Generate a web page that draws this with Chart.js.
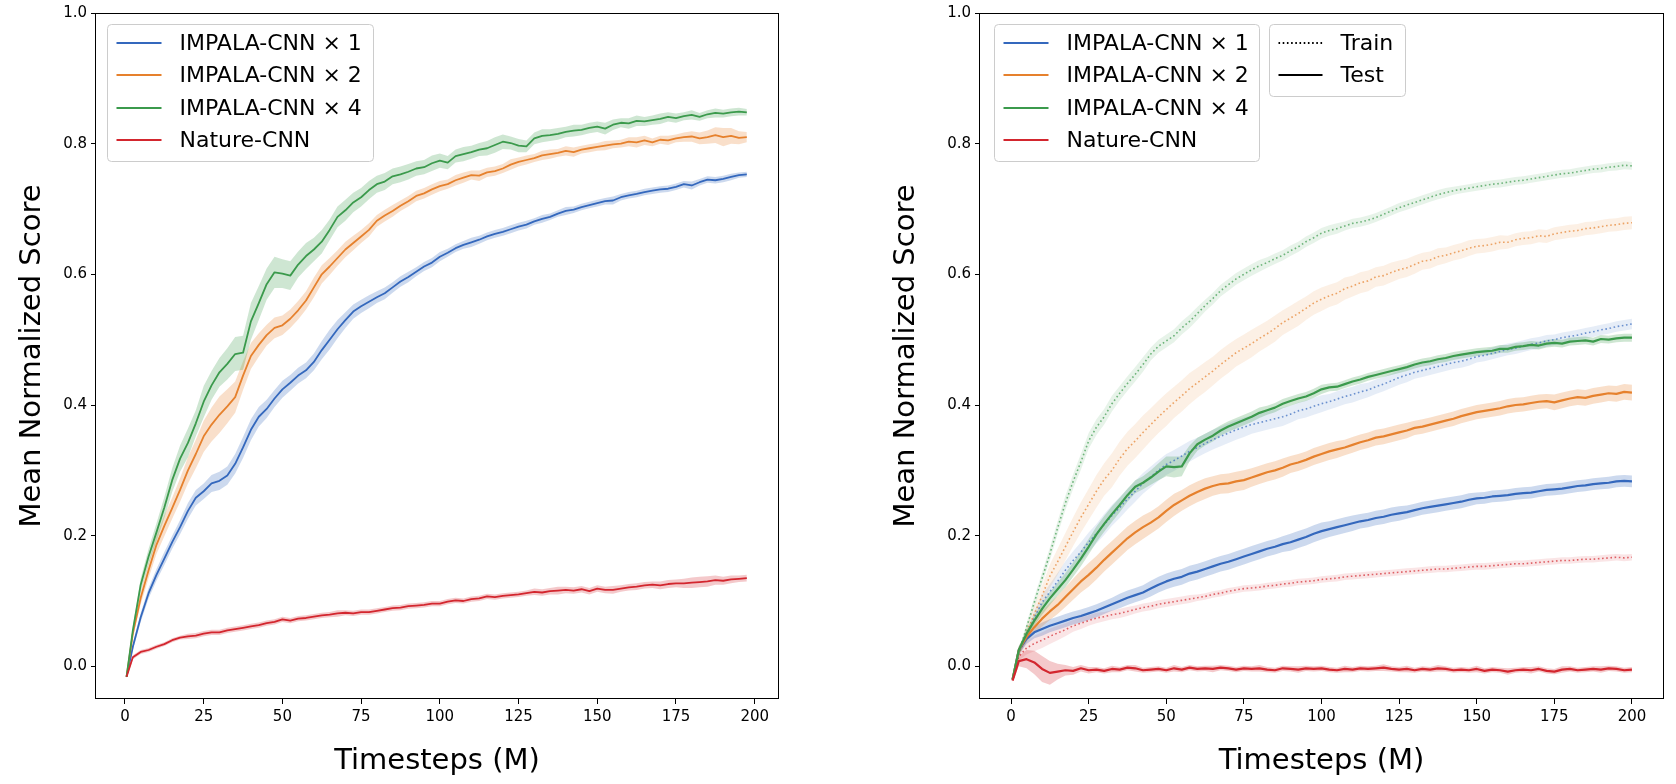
<!DOCTYPE html>
<html>
<head>
<meta charset="utf-8">
<script src="https://cdn.jsdelivr.net/npm/chart.js@4.4.1/dist/chart.umd.min.js"></script>
<style>
  html, body { margin: 0; padding: 0; background: #fff; }
  #wrap { position: relative; width: 1676px; height: 784px; overflow: hidden; }
  .panel { position: absolute; top: 0; width: 838px; height: 784px; }
</style>
</head>
<body>
<div id="wrap">
  <div class="panel" style="left:0"><canvas id="leftChart"></canvas></div>
  <div class="panel" style="left:838px"><canvas id="rightChart"></canvas></div>
</div>
<script>
// ---- data ----
const seriesNames = ['IMPALA-CNN × 1', 'IMPALA-CNN × 2', 'IMPALA-CNN × 4', 'Nature-CNN'];
const styleNames = ['Train', 'Test'];
const xTicks = [0, 25, 50, 75, 100, 125, 150, 175, 200];
const yTicks = [0.0, 0.2, 0.4, 0.6, 0.8, 1.0];

// left panel: training performance
const stepsLeft = [
  0.5, 2.5, 5, 7.5, 10, 12.5, 15, 17.5, 20, 22.5,
  25, 27.5, 30, 32.5, 35, 37.5, 40, 42.5, 45, 47.5,
  50, 52.5, 55, 57.5, 60, 62.5, 65, 67.5, 70, 72.5,
  75, 77.5, 80, 82.5, 85, 87.5, 90, 92.5, 95, 97.5,
  100, 102.5, 105, 107.5, 110, 112.5, 115, 117.5, 120, 122.5,
  125, 127.5, 130, 132.5, 135, 137.5, 140, 142.5, 145, 147.5,
  150, 152.5, 155, 157.5, 160, 162.5, 165, 167.5, 170, 172.5,
  175, 177.5, 180, 182.5, 185, 187.5, 190, 192.5, 195, 197.5
];
const leftX1 = [
  -0.016, 0.03, 0.075, 0.112, 0.14, 0.165, 0.19, 0.213, 0.238, 0.258,
  0.268, 0.28, 0.284, 0.292, 0.31, 0.335, 0.362, 0.382, 0.394, 0.41,
  0.424, 0.434, 0.445, 0.453, 0.466, 0.484, 0.5, 0.516, 0.53, 0.543,
  0.551, 0.558, 0.565, 0.571, 0.58, 0.589, 0.596, 0.604, 0.612, 0.618,
  0.627, 0.633, 0.64, 0.645, 0.649, 0.653, 0.658, 0.662, 0.665, 0.669,
  0.673, 0.676, 0.681, 0.685, 0.688, 0.693, 0.697, 0.699, 0.703, 0.706,
  0.709, 0.712, 0.713, 0.718, 0.721, 0.723, 0.726, 0.728, 0.73, 0.731,
  0.734, 0.738, 0.736, 0.741, 0.745, 0.744, 0.746, 0.749, 0.752, 0.753
];
const leftX1Spread = [
  0.002, 0.005, 0.007, 0.008, 0.009, 0.01, 0.01, 0.011, 0.012, 0.012,
  0.012, 0.013, 0.014, 0.014, 0.015, 0.016, 0.016, 0.015, 0.014, 0.013,
  0.013, 0.012, 0.012, 0.012, 0.013, 0.014, 0.015, 0.014, 0.012, 0.011,
  0.01, 0.01, 0.009, 0.009, 0.008, 0.008, 0.008, 0.007, 0.007, 0.007,
  0.007, 0.006, 0.006, 0.006, 0.007, 0.006, 0.006, 0.006, 0.006, 0.006,
  0.006, 0.006, 0.005, 0.006, 0.005, 0.005, 0.006, 0.005, 0.005, 0.005,
  0.005, 0.005, 0.006, 0.005, 0.005, 0.005, 0.005, 0.005, 0.005, 0.005,
  0.005, 0.005, 0.006, 0.005, 0.005, 0.005, 0.005, 0.005, 0.004, 0.004
];
const leftX2 = [
  -0.016, 0.05, 0.105, 0.147, 0.186, 0.215, 0.242, 0.27, 0.3, 0.325,
  0.352, 0.37, 0.385, 0.398, 0.412, 0.445, 0.475, 0.492, 0.507, 0.518,
  0.522, 0.532, 0.545, 0.56, 0.58, 0.6, 0.612, 0.625, 0.638, 0.648,
  0.658, 0.668, 0.682, 0.69, 0.697, 0.705, 0.712, 0.72, 0.724, 0.73,
  0.735, 0.738, 0.744, 0.748, 0.752, 0.751, 0.756, 0.758, 0.762, 0.768,
  0.772, 0.775, 0.778, 0.782, 0.784, 0.786, 0.789, 0.787, 0.791, 0.793,
  0.795, 0.797, 0.799, 0.8, 0.803, 0.802, 0.805, 0.802, 0.806, 0.805,
  0.808, 0.81, 0.811, 0.808, 0.81, 0.813, 0.81, 0.812, 0.809, 0.81
];
const leftX2Spread = [
  0.002, 0.006, 0.01, 0.012, 0.014, 0.016, 0.016, 0.018, 0.02, 0.022,
  0.024, 0.026, 0.028, 0.026, 0.024, 0.022, 0.02, 0.018, 0.016, 0.016,
  0.015, 0.014, 0.014, 0.014, 0.015, 0.014, 0.013, 0.012, 0.012, 0.011,
  0.01, 0.01, 0.009, 0.009, 0.009, 0.008, 0.008, 0.008, 0.008, 0.008,
  0.008, 0.007, 0.008, 0.008, 0.007, 0.008, 0.007, 0.007, 0.007, 0.008,
  0.007, 0.007, 0.006, 0.007, 0.007, 0.006, 0.007, 0.007, 0.006, 0.006,
  0.006, 0.007, 0.006, 0.006, 0.007, 0.008, 0.007, 0.006, 0.006, 0.007,
  0.006, 0.007, 0.008, 0.009, 0.01, 0.012, 0.014, 0.012, 0.01, 0.008
];
const leftX4 = [
  -0.016, 0.055, 0.125, 0.168, 0.205, 0.243, 0.285, 0.318, 0.342, 0.372,
  0.405, 0.43, 0.45, 0.463, 0.478, 0.48, 0.528, 0.556, 0.585, 0.603,
  0.601, 0.598, 0.615, 0.628, 0.638, 0.65, 0.668, 0.688, 0.698, 0.71,
  0.718, 0.729, 0.738, 0.742, 0.75, 0.753, 0.757, 0.762, 0.764, 0.77,
  0.774, 0.771, 0.781, 0.784, 0.787, 0.791, 0.793, 0.798, 0.803, 0.801,
  0.797, 0.796, 0.808, 0.812, 0.813, 0.815, 0.818, 0.82, 0.821, 0.824,
  0.826, 0.823, 0.829, 0.832, 0.831, 0.835, 0.834, 0.836, 0.838, 0.841,
  0.839, 0.842, 0.844, 0.841, 0.845, 0.847, 0.846, 0.848, 0.849, 0.848
];
const leftX4Spread = [
  0.002, 0.006, 0.01, 0.012, 0.014, 0.016, 0.018, 0.02, 0.022, 0.02,
  0.024, 0.022, 0.022, 0.024, 0.026, 0.026, 0.028, 0.026, 0.024, 0.024,
  0.022, 0.022, 0.02, 0.02, 0.018, 0.018, 0.016, 0.016, 0.016, 0.015,
  0.014, 0.014, 0.013, 0.013, 0.012, 0.012, 0.012, 0.011, 0.011, 0.012,
  0.011, 0.01, 0.01, 0.011, 0.01, 0.01, 0.011, 0.012, 0.011, 0.01,
  0.01, 0.009, 0.009, 0.01, 0.009, 0.009, 0.008, 0.009, 0.008, 0.008,
  0.008, 0.009, 0.008, 0.007, 0.008, 0.008, 0.007, 0.007, 0.008, 0.007,
  0.007, 0.006, 0.007, 0.006, 0.006, 0.007, 0.006, 0.006, 0.006, 0.005
];
const leftNature = [
  -0.016, 0.014, 0.022, 0.025, 0.03, 0.034, 0.04, 0.044, 0.046, 0.047,
  0.05, 0.052, 0.052, 0.055, 0.057, 0.059, 0.061, 0.063, 0.066, 0.068,
  0.072, 0.07, 0.073, 0.074, 0.076, 0.078, 0.079, 0.081, 0.082, 0.081,
  0.083, 0.083, 0.085, 0.087, 0.089, 0.09, 0.092, 0.093, 0.094, 0.096,
  0.096, 0.099, 0.101, 0.1, 0.103, 0.104, 0.107, 0.106, 0.108, 0.109,
  0.11, 0.112, 0.114, 0.113, 0.115, 0.116, 0.117, 0.116, 0.118, 0.115,
  0.119, 0.117, 0.117, 0.119, 0.121, 0.122, 0.124, 0.125, 0.124, 0.126,
  0.127, 0.127, 0.128, 0.129, 0.13, 0.132, 0.131, 0.133, 0.134, 0.135
];
const leftNatureSpread = [
  0.002, 0.003, 0.003, 0.003, 0.003, 0.003, 0.003, 0.003, 0.004, 0.004,
  0.004, 0.004, 0.004, 0.004, 0.004, 0.004, 0.004, 0.004, 0.004, 0.004,
  0.004, 0.004, 0.004, 0.004, 0.004, 0.004, 0.004, 0.005, 0.004, 0.004,
  0.004, 0.004, 0.004, 0.004, 0.004, 0.004, 0.004, 0.004, 0.004, 0.004,
  0.004, 0.004, 0.004, 0.004, 0.004, 0.004, 0.004, 0.004, 0.004, 0.004,
  0.004, 0.004, 0.005, 0.005, 0.005, 0.006, 0.005, 0.005, 0.005, 0.005,
  0.005, 0.005, 0.006, 0.005, 0.005, 0.005, 0.005, 0.005, 0.006, 0.006,
  0.006, 0.007, 0.008, 0.008, 0.008, 0.007, 0.006, 0.006, 0.005, 0.005
];

// right panel: generalization, train (dotted) and test (solid)
const stepsRight = [
  0.5, 2.5, 5, 7.5, 10, 12.5, 15, 17.5, 20, 22.5,
  25, 27.5, 30, 32.5, 35, 37.5, 40, 42.5, 45, 47.5,
  50, 52.5, 55, 57.5, 60, 62.5, 65, 67.5, 70, 72.5,
  75, 77.5, 80, 82.5, 85, 87.5, 90, 92.5, 95, 97.5,
  100, 102.5, 105, 107.5, 110, 112.5, 115, 117.5, 120, 122.5,
  125, 127.5, 130, 132.5, 135, 137.5, 140, 142.5, 145, 147.5,
  150, 152.5, 155, 157.5, 160, 162.5, 165, 167.5, 170, 172.5,
  175, 177.5, 180, 182.5, 185, 187.5, 190, 192.5, 195, 197.5,
  200
];
const trainX1 = [
  -0.02, 0.02, 0.045, 0.075, 0.098, 0.114, 0.13, 0.147, 0.162, 0.175,
  0.19, 0.203, 0.217, 0.231, 0.243, 0.256, 0.268, 0.28, 0.29, 0.3,
  0.309, 0.315, 0.322, 0.329, 0.335, 0.341, 0.347, 0.352, 0.357, 0.362,
  0.366, 0.37, 0.373, 0.376, 0.379, 0.382, 0.386, 0.391, 0.394, 0.398,
  0.402, 0.405, 0.409, 0.413, 0.416, 0.42, 0.423, 0.428, 0.432, 0.437,
  0.442, 0.446, 0.45, 0.453, 0.456, 0.459, 0.462, 0.465, 0.467, 0.47,
  0.474, 0.476, 0.479, 0.482, 0.485, 0.487, 0.49, 0.493, 0.495, 0.498,
  0.5, 0.503, 0.505, 0.507, 0.51, 0.512, 0.515, 0.517, 0.52, 0.522,
  0.524
];
const trainX1Spread = [
  0.002, 0.006, 0.008, 0.01, 0.011, 0.012, 0.013, 0.014, 0.014, 0.015,
  0.015, 0.015, 0.016, 0.016, 0.016, 0.016, 0.016, 0.016, 0.016, 0.016,
  0.016, 0.016, 0.016, 0.016, 0.015, 0.015, 0.015, 0.015, 0.015, 0.015,
  0.015, 0.014, 0.014, 0.014, 0.014, 0.014, 0.013, 0.013, 0.013, 0.013,
  0.013, 0.012, 0.012, 0.012, 0.012, 0.012, 0.011, 0.011, 0.011, 0.011,
  0.011, 0.011, 0.01, 0.01, 0.01, 0.01, 0.01, 0.01, 0.01, 0.01,
  0.009, 0.009, 0.009, 0.009, 0.009, 0.009, 0.009, 0.009, 0.009, 0.009,
  0.008, 0.008, 0.008, 0.008, 0.008, 0.008, 0.008, 0.008, 0.008, 0.008,
  0.008
];
const trainX2 = [
  -0.02, 0.018, 0.052, 0.08, 0.108, 0.138, 0.16, 0.183, 0.206, 0.228,
  0.248, 0.268, 0.286, 0.3, 0.318, 0.333, 0.345, 0.358, 0.37, 0.382,
  0.393, 0.404, 0.414, 0.425, 0.434, 0.443, 0.452, 0.462, 0.471, 0.48,
  0.487, 0.494, 0.502, 0.509, 0.517, 0.526, 0.533, 0.54, 0.548, 0.556,
  0.562, 0.567, 0.571, 0.578, 0.582, 0.587, 0.59, 0.596, 0.598, 0.603,
  0.607, 0.61, 0.615, 0.62, 0.622, 0.627, 0.629, 0.633, 0.636, 0.64,
  0.643, 0.644, 0.646, 0.649, 0.649, 0.653, 0.655, 0.656, 0.659, 0.658,
  0.662, 0.664, 0.666, 0.667, 0.67, 0.671, 0.673, 0.675, 0.676, 0.678,
  0.679
];
const trainX2Spread = [
  0.002, 0.006, 0.01, 0.013, 0.016, 0.018, 0.02, 0.021, 0.022, 0.023,
  0.024, 0.025, 0.025, 0.026, 0.026, 0.026, 0.026, 0.026, 0.025, 0.025,
  0.025, 0.024, 0.024, 0.024, 0.023, 0.023, 0.022, 0.022, 0.022, 0.021,
  0.021, 0.021, 0.02, 0.02, 0.02, 0.019, 0.019, 0.019, 0.018, 0.018,
  0.018, 0.017, 0.017, 0.017, 0.016, 0.016, 0.016, 0.015, 0.015, 0.015,
  0.014, 0.014, 0.014, 0.013, 0.013, 0.013, 0.012, 0.012, 0.012, 0.012,
  0.011, 0.011, 0.011, 0.011, 0.01, 0.01, 0.01, 0.01, 0.01, 0.01,
  0.01, 0.01, 0.01, 0.01, 0.01, 0.01, 0.01, 0.01, 0.01, 0.01,
  0.01
];
const trainX4 = [
  -0.02, 0.02, 0.06, 0.098, 0.135, 0.172, 0.212, 0.25, 0.283, 0.313,
  0.345, 0.366, 0.382, 0.402, 0.418, 0.433, 0.447, 0.462, 0.478, 0.49,
  0.498, 0.506, 0.518, 0.528, 0.54, 0.552, 0.563, 0.575, 0.584, 0.593,
  0.6, 0.607, 0.613, 0.618, 0.624, 0.629, 0.636, 0.642, 0.65, 0.656,
  0.663, 0.667, 0.67, 0.674, 0.678, 0.68, 0.683, 0.687, 0.692, 0.697,
  0.702, 0.706, 0.71, 0.714, 0.718, 0.722, 0.725, 0.728, 0.73, 0.732,
  0.734, 0.736, 0.738, 0.739, 0.741, 0.743, 0.744, 0.746, 0.748, 0.75,
  0.752, 0.754, 0.755, 0.757, 0.759, 0.761, 0.762, 0.764, 0.765, 0.767,
  0.766
];
const trainX4Spread = [
  0.002, 0.004, 0.006, 0.008, 0.009, 0.01, 0.01, 0.011, 0.011, 0.012,
  0.012, 0.012, 0.012, 0.012, 0.011, 0.011, 0.011, 0.011, 0.01, 0.01,
  0.01, 0.01, 0.01, 0.01, 0.01, 0.009, 0.009, 0.009, 0.009, 0.009,
  0.009, 0.009, 0.009, 0.008, 0.008, 0.008, 0.008, 0.008, 0.008, 0.008,
  0.008, 0.008, 0.008, 0.007, 0.007, 0.007, 0.007, 0.007, 0.007, 0.007,
  0.007, 0.007, 0.007, 0.007, 0.007, 0.007, 0.007, 0.006, 0.006, 0.006,
  0.006, 0.006, 0.006, 0.006, 0.006, 0.006, 0.006, 0.006, 0.006, 0.006,
  0.006, 0.006, 0.006, 0.006, 0.006, 0.006, 0.006, 0.006, 0.006, 0.006,
  0.006
];
const trainNature = [
  -0.02, 0.015, 0.028, 0.035, 0.04, 0.046, 0.051, 0.056, 0.062, 0.066,
  0.07, 0.074, 0.076, 0.079, 0.081, 0.084, 0.087, 0.09, 0.092, 0.095,
  0.097, 0.099, 0.101, 0.103, 0.105, 0.107, 0.11, 0.112, 0.115, 0.117,
  0.119, 0.12, 0.121, 0.123, 0.124, 0.126, 0.127, 0.129, 0.13, 0.131,
  0.133, 0.134, 0.135, 0.137, 0.138, 0.139, 0.14, 0.141, 0.142, 0.143,
  0.144, 0.145, 0.146, 0.147, 0.148, 0.149, 0.149, 0.15, 0.151, 0.152,
  0.153, 0.153, 0.154, 0.155, 0.156, 0.157, 0.157, 0.158, 0.159, 0.16,
  0.161, 0.162, 0.162, 0.163, 0.164, 0.164, 0.165, 0.166, 0.167, 0.166,
  0.167
];
const trainNatureSpread = [
  0.002, 0.006, 0.01, 0.012, 0.012, 0.012, 0.011, 0.01, 0.009, 0.009,
  0.008, 0.008, 0.007, 0.007, 0.007, 0.007, 0.006, 0.006, 0.006, 0.006,
  0.006, 0.006, 0.006, 0.006, 0.005, 0.005, 0.005, 0.005, 0.005, 0.005,
  0.005, 0.005, 0.005, 0.005, 0.005, 0.005, 0.005, 0.005, 0.005, 0.005,
  0.005, 0.005, 0.005, 0.005, 0.005, 0.005, 0.005, 0.005, 0.005, 0.005,
  0.005, 0.005, 0.005, 0.005, 0.005, 0.005, 0.005, 0.005, 0.005, 0.005,
  0.005, 0.005, 0.005, 0.005, 0.005, 0.005, 0.005, 0.005, 0.005, 0.005,
  0.005, 0.005, 0.005, 0.005, 0.005, 0.005, 0.005, 0.005, 0.005, 0.005,
  0.005
];
const testX1 = [
  -0.02, 0.025, 0.042, 0.052, 0.057, 0.062, 0.066, 0.07, 0.074, 0.077,
  0.081, 0.085, 0.09, 0.095, 0.1, 0.105, 0.109, 0.113, 0.119, 0.125,
  0.13, 0.134, 0.137, 0.142, 0.145, 0.149, 0.153, 0.157, 0.16, 0.164,
  0.168, 0.172, 0.176, 0.18, 0.183, 0.187, 0.19, 0.194, 0.198, 0.203,
  0.207, 0.21, 0.213, 0.216, 0.219, 0.222, 0.224, 0.227, 0.229, 0.232,
  0.234, 0.236, 0.239, 0.242, 0.244, 0.246, 0.248, 0.25, 0.252, 0.255,
  0.257, 0.258, 0.26, 0.261, 0.262, 0.264, 0.265, 0.266, 0.268, 0.27,
  0.271, 0.272, 0.274, 0.276, 0.277, 0.279, 0.28, 0.281, 0.283, 0.284,
  0.283
];
const testX1Spread = [
  0.002, 0.006, 0.008, 0.009, 0.01, 0.01, 0.01, 0.01, 0.01, 0.01,
  0.01, 0.01, 0.01, 0.01, 0.011, 0.011, 0.011, 0.011, 0.012, 0.012,
  0.012, 0.012, 0.012, 0.012, 0.012, 0.012, 0.012, 0.012, 0.012, 0.012,
  0.012, 0.012, 0.012, 0.012, 0.012, 0.012, 0.013, 0.013, 0.013, 0.013,
  0.013, 0.012, 0.012, 0.012, 0.012, 0.011, 0.011, 0.011, 0.011, 0.011,
  0.011, 0.01, 0.01, 0.01, 0.01, 0.01, 0.01, 0.01, 0.01, 0.01,
  0.009, 0.009, 0.009, 0.009, 0.009, 0.009, 0.009, 0.009, 0.009, 0.009,
  0.009, 0.009, 0.009, 0.009, 0.009, 0.009, 0.009, 0.009, 0.009, 0.009,
  0.009
];
const testX2 = [
  -0.02, 0.025, 0.045, 0.06, 0.073, 0.084, 0.094, 0.106, 0.118, 0.13,
  0.14, 0.151, 0.163, 0.174, 0.185, 0.196, 0.205, 0.213, 0.22, 0.228,
  0.238, 0.247, 0.254, 0.261, 0.267, 0.272, 0.276, 0.279, 0.28, 0.283,
  0.285, 0.289, 0.293, 0.297, 0.3, 0.304, 0.309, 0.312, 0.316, 0.321,
  0.325, 0.329, 0.332, 0.335, 0.339, 0.343, 0.346, 0.35, 0.352, 0.355,
  0.358, 0.361, 0.365, 0.367, 0.37, 0.373, 0.376, 0.379, 0.383, 0.386,
  0.389, 0.391, 0.393, 0.395, 0.398, 0.4, 0.401, 0.403, 0.405, 0.406,
  0.404, 0.407, 0.41, 0.412, 0.411, 0.414, 0.416, 0.418, 0.417, 0.42,
  0.419
];
const testX2Spread = [
  0.002, 0.006, 0.008, 0.01, 0.012, 0.013, 0.014, 0.015, 0.016, 0.017,
  0.018, 0.018, 0.018, 0.018, 0.018, 0.018, 0.018, 0.018, 0.017, 0.017,
  0.017, 0.017, 0.016, 0.016, 0.016, 0.016, 0.015, 0.015, 0.015, 0.015,
  0.015, 0.014, 0.014, 0.014, 0.014, 0.014, 0.013, 0.013, 0.013, 0.013,
  0.013, 0.013, 0.013, 0.012, 0.012, 0.012, 0.012, 0.012, 0.012, 0.012,
  0.012, 0.012, 0.011, 0.011, 0.011, 0.011, 0.011, 0.011, 0.011, 0.011,
  0.011, 0.011, 0.011, 0.011, 0.011, 0.011, 0.011, 0.011, 0.011, 0.011,
  0.012, 0.012, 0.012, 0.012, 0.012, 0.012, 0.012, 0.012, 0.012, 0.012,
  0.012
];
const testX4 = [
  -0.02, 0.025, 0.05, 0.07, 0.088, 0.104, 0.118, 0.132, 0.148, 0.165,
  0.183, 0.202, 0.218, 0.233, 0.247, 0.262, 0.275, 0.281, 0.289, 0.298,
  0.306, 0.305, 0.306, 0.326, 0.34, 0.347, 0.353, 0.361, 0.367, 0.372,
  0.377, 0.382, 0.388, 0.392, 0.396, 0.402, 0.406, 0.41, 0.413, 0.418,
  0.424, 0.427, 0.428, 0.432, 0.436, 0.439, 0.443, 0.446, 0.449, 0.452,
  0.455, 0.458, 0.462, 0.465, 0.467, 0.47, 0.472, 0.475, 0.477, 0.479,
  0.481, 0.482, 0.483, 0.486, 0.486, 0.489, 0.49, 0.492, 0.491, 0.494,
  0.495, 0.494, 0.497, 0.498, 0.499, 0.497, 0.501, 0.5, 0.502, 0.503,
  0.503
];
const testX4Spread = [
  0.002, 0.005, 0.007, 0.008, 0.009, 0.01, 0.01, 0.011, 0.011, 0.012,
  0.012, 0.012, 0.012, 0.012, 0.011, 0.01, 0.01, 0.01, 0.011, 0.013,
  0.015, 0.016, 0.015, 0.012, 0.01, 0.009, 0.009, 0.008, 0.008, 0.008,
  0.008, 0.008, 0.008, 0.007, 0.007, 0.007, 0.007, 0.007, 0.007, 0.007,
  0.007, 0.006, 0.006, 0.006, 0.006, 0.006, 0.006, 0.006, 0.006, 0.006,
  0.006, 0.006, 0.006, 0.006, 0.006, 0.006, 0.006, 0.006, 0.006, 0.006,
  0.006, 0.006, 0.006, 0.006, 0.006, 0.006, 0.006, 0.006, 0.006, 0.006,
  0.006, 0.006, 0.006, 0.006, 0.006, 0.006, 0.006, 0.006, 0.006, 0.006,
  0.006
];
const testNature = [
  -0.022, 0.008, 0.011, 0.006, -0.004, -0.01, -0.008, -0.006, -0.007, -0.003,
  -0.006, -0.005, -0.007, -0.004, -0.005, -0.002, -0.003, -0.006, -0.005, -0.004,
  -0.006, -0.003, -0.005, -0.002, -0.004, -0.003, -0.004, -0.002, -0.003, -0.005,
  -0.003, -0.004, -0.003, -0.005, -0.006, -0.003, -0.004, -0.005, -0.003, -0.004,
  -0.003, -0.005, -0.006, -0.004, -0.005, -0.003, -0.004, -0.003, -0.002, -0.004,
  -0.005, -0.004, -0.006, -0.004, -0.005, -0.003, -0.004, -0.006, -0.005, -0.006,
  -0.004, -0.007, -0.005, -0.006, -0.008, -0.006, -0.005, -0.006, -0.004, -0.007,
  -0.008, -0.005, -0.004, -0.006, -0.005, -0.004, -0.005, -0.003, -0.004, -0.006,
  -0.005
];
const testNatureSpread = [
  0.002, 0.008, 0.014, 0.018, 0.02, 0.018, 0.012, 0.008, 0.006, 0.005,
  0.005, 0.004, 0.004, 0.005, 0.004, 0.004, 0.005, 0.004, 0.004, 0.004,
  0.004, 0.005, 0.004, 0.004, 0.004, 0.004, 0.005, 0.004, 0.004, 0.004,
  0.004, 0.004, 0.005, 0.004, 0.004, 0.004, 0.004, 0.005, 0.004, 0.004,
  0.004, 0.004, 0.004, 0.005, 0.004, 0.004, 0.004, 0.004, 0.005, 0.004,
  0.004, 0.005, 0.004, 0.004, 0.004, 0.005, 0.004, 0.004, 0.004, 0.004,
  0.005, 0.004, 0.004, 0.004, 0.005, 0.004, 0.004, 0.005, 0.004, 0.004,
  0.004, 0.005, 0.004, 0.004, 0.004, 0.004, 0.005, 0.004, 0.004, 0.004,
  0.004
];

// ---- styling ----
const palette = ['#3468bd', '#e6812d', '#3b9a4c', '#d3262e'];
Chart.defaults.font.family = '"DejaVu Sans", sans-serif';
Chart.defaults.color = '#000';

function rgba(hex, a) {
  const n = parseInt(hex.slice(1), 16);
  return 'rgba(' + (n >> 16) + ',' + ((n >> 8) & 255) + ',' + (n & 255) + ',' + a + ')';
}

function pts(xs, ys) {
  return xs.map((x, i) => ({ x: x, y: ys[i] }));
}

function lineSet(xs, ys, color, width, dash, alpha) {
  return {
    data: pts(xs, ys), borderColor: rgba(color, alpha), borderWidth: width,
    borderDash: dash, pointRadius: 0, fill: false, tension: 0,
    borderJoinStyle: 'round', borderCapStyle: 'butt'
  };
}

function bandSets(xs, mean, spread, color, alpha) {
  const lo = mean.map((v, i) => v - spread[i]);
  const hi = mean.map((v, i) => v + spread[i]);
  return [
    { data: pts(xs, lo), borderWidth: 0, borderColor: 'rgba(0,0,0,0)', pointRadius: 0, fill: false },
    { data: pts(xs, hi), borderWidth: 0, borderColor: 'rgba(0,0,0,0)', pointRadius: 0, fill: '-1',
      backgroundColor: rgba(color, alpha) }
  ];
}

// full box around the plot area, like matplotlib spines
const framePlugin = {
  id: 'frame',
  afterDatasetsDraw(chart) {
    const { ctx, chartArea: a } = chart;
    ctx.save();
    ctx.strokeStyle = '#000';
    ctx.lineWidth = 1;
    ctx.strokeRect(Math.round(a.left) - 0.5, Math.round(a.top) + 0.5,
      Math.round(a.right - a.left) + 1, Math.round(a.bottom - a.top) - 1);
    ctx.restore();
  }
};

// matplotlib-like framed legends inside the axes
const boxLegendPlugin = {
  id: 'boxLegend',
  afterDraw(chart, args, opts) {
    const { ctx, chartArea } = chart;
    (opts.groups || []).forEach(g => {
      const x = Math.round(chartArea.left + g.dx) + 0.5;
      const y = Math.round(chartArea.top + g.dy) + 0.5;
      const r = 4;
      ctx.save();
      ctx.beginPath();
      ctx.moveTo(x + r, y);
      ctx.lineTo(x + g.w - r, y);
      ctx.arcTo(x + g.w, y, x + g.w, y + r, r);
      ctx.lineTo(x + g.w, y + g.h - r);
      ctx.arcTo(x + g.w, y + g.h, x + g.w - r, y + g.h, r);
      ctx.lineTo(x + r, y + g.h);
      ctx.arcTo(x, y + g.h, x, y + g.h - r, r);
      ctx.lineTo(x, y + r);
      ctx.arcTo(x, y, x + r, y, r);
      ctx.closePath();
      ctx.fillStyle = 'rgba(255,255,255,0.8)';
      ctx.fill();
      ctx.strokeStyle = '#cccccc';
      ctx.lineWidth = 1;
      ctx.stroke();
      g.items.forEach((it, i) => {
        const cy = Math.round(y + g.firstRow + i * g.rowGap);
        ctx.beginPath();
        ctx.setLineDash(it.dash || []);
        ctx.strokeStyle = it.color;
        ctx.lineWidth = 2;
        ctx.moveTo(x + g.lineX0, cy);
        ctx.lineTo(x + g.lineX1, cy);
        ctx.stroke();
        ctx.setLineDash([]);
        ctx.fillStyle = '#000';
        ctx.font = '22px "DejaVu Sans"';
        ctx.textBaseline = 'middle';
        ctx.textAlign = 'left';
        ctx.fillText(it.label, x + g.textX, cy + 1);
      });
      ctx.restore();
    });
  }
};

function scales(xMin, xMax, yWidth, yTitleTop) {
  const tickGrid = { drawOnChartArea: false, drawTicks: true, tickLength: 5, color: '#000', lineWidth: 1 };
  return {
    x: {
      type: 'linear', min: xMin, max: xMax,
      afterBuildTicks: s => { s.ticks = xTicks.map(v => ({ value: v })); },
      ticks: { font: { size: 15 }, padding: 4, maxRotation: 0, autoSkip: false, callback: v => String(v) },
      grid: tickGrid,
      border: { display: false },
      title: { display: true, text: 'Timesteps (M)', font: { size: 29 }, padding: { top: 0, bottom: 5 } },
      afterFit: s => { s.height = 85; }
    },
    y: {
      type: 'linear', min: -0.05, max: 1.0,
      afterBuildTicks: s => { s.ticks = yTicks.map(v => ({ value: v })); },
      ticks: { font: { size: 15 }, padding: 4, autoSkip: false, callback: v => v.toFixed(1) },
      grid: tickGrid,
      border: { display: false },
      title: { display: true, text: 'Mean Normalized Score', font: { size: 29 }, padding: { top: yTitleTop, bottom: 0 } },
      afterFit: s => { s.width = yWidth; }
    }
  };
}

function legendItems() {
  return seriesNames.map((n, i) => ({ label: n, color: palette[i] }));
}

// ---- left chart ----
const leftMeans = [leftX1, leftX2, leftX4, leftNature];
const leftSpreads = [leftX1Spread, leftX2Spread, leftX4Spread, leftNatureSpread];
const leftSets = [];
for (let i = 3; i >= 0; i--) leftSets.push(lineSet(stepsLeft, leftMeans[i], palette[i], 1.8, [], 1));
for (let i = 3; i >= 0; i--) leftSets.push(...bandSets(stepsLeft, leftMeans[i], leftSpreads[i], palette[i], 0.25));

new Chart(document.getElementById('leftChart'), {
  type: 'line',
  data: { datasets: leftSets },
  options: {
    responsive: true, maintainAspectRatio: false, animation: false,
    layout: { padding: { left: 0, top: 11, right: 60, bottom: 0 } },
    scales: scales(-9.2, 207.4, 96, 15),
    plugins: {
      legend: { display: false }, tooltip: { enabled: false },
      boxLegend: {
        groups: [{ dx: 11, dy: 11, w: 266, h: 137, firstRow: 18, rowGap: 32.6,
          lineX0: 9, lineX1: 54, textX: 72, items: legendItems() }]
      }
    }
  },
  plugins: [framePlugin, boxLegendPlugin]
});

// ---- right chart ----
const trainMeans = [trainX1, trainX2, trainX4, trainNature];
const trainSpreads = [trainX1Spread, trainX2Spread, trainX4Spread, trainNatureSpread];
const testMeans = [testX1, testX2, testX4, testNature];
const testSpreads = [testX1Spread, testX2Spread, testX4Spread, testNatureSpread];
const rightSets = [];
for (let i = 3; i >= 0; i--) rightSets.push(lineSet(stepsRight, testMeans[i], palette[i], 2.2, [], 1));
for (let i = 3; i >= 0; i--) rightSets.push(lineSet(stepsRight, trainMeans[i], palette[i], 1.6, [1.6, 2.6], 0.7));
for (let i = 3; i >= 0; i--) rightSets.push(...bandSets(stepsRight, testMeans[i], testSpreads[i], palette[i], 0.25));
for (let i = 3; i >= 0; i--) rightSets.push(...bandSets(stepsRight, trainMeans[i], trainSpreads[i], palette[i], 0.12));

new Chart(document.getElementById('rightChart'), {
  type: 'line',
  data: { datasets: rightSets },
  options: {
    responsive: true, maintainAspectRatio: false, animation: false,
    layout: { padding: { left: 0, top: 11, right: 13, bottom: 0 } },
    scales: scales(-10, 210, 142, 51),
    plugins: {
      legend: { display: false }, tooltip: { enabled: false },
      boxLegend: {
        groups: [
          { dx: 14, dy: 11, w: 265, h: 137, firstRow: 18, rowGap: 32.6,
            lineX0: 9, lineX1: 54, textX: 72, items: legendItems() },
          { dx: 289, dy: 11, w: 136, h: 72, firstRow: 18, rowGap: 32.4,
            lineX0: 9, lineX1: 53, textX: 71,
            items: [{ label: styleNames[0], color: '#000', dash: [1.6, 2.6] },
                    { label: styleNames[1], color: '#000' }] }
        ]
      }
    }
  },
  plugins: [framePlugin, boxLegendPlugin]
});
</script>
</body>
</html>
